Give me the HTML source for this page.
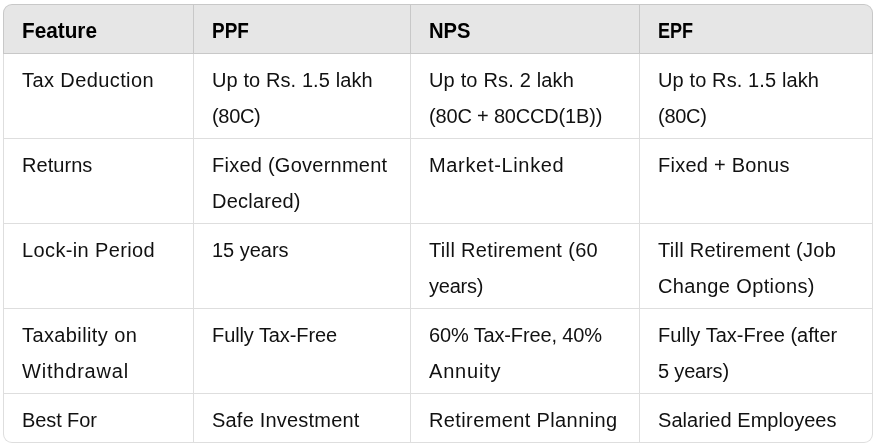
<!DOCTYPE html>
<html>
<head>
<meta charset="utf-8">
<title>PPF vs NPS vs EPF</title>
<style>
html,body{margin:0;padding:0;background:#fff;}
body{width:877px;height:445px;overflow:hidden;position:relative;font-family:"Liberation Sans",sans-serif;}
table{position:absolute;left:3px;top:4px;width:870px;border-collapse:separate;border-spacing:0;table-layout:fixed;
  border:1px solid rgba(0,0,0,.13);border-radius:9px;overflow:hidden;font-size:20px;line-height:36px;color:#111;
  background:linear-gradient(to bottom,#e6e6e6 0,#e6e6e6 50px,#fff 50px,#fff 100%) no-repeat;background-origin:border-box;background-clip:border-box;}
th,td{padding:8px 0 4px 18px;text-align:left;vertical-align:top;border-left:1px solid rgba(0,0,0,.13);border-top:1px solid rgba(0,0,0,.13);white-space:nowrap;overflow:hidden;}
th:first-child,td:first-child{border-left:none;}
thead th{border-top:none;font-weight:bold;color:#000;}
thead .l{transform-origin:0 25px;width:100px;}
tbody tr:first-child td{background:linear-gradient(to bottom,#e6e6e6 0,#e6e6e6 1px,transparent 1px) no-repeat;background-origin:border-box;background-clip:border-box;}
.l{display:block;height:36px;}

</style>
</head>
<body>
<table>
<colgroup><col style="width:189px"><col style="width:217px"><col style="width:229px"><col style="width:233px"></colgroup>
<thead><tr><th><span class="l" style="transform:scale(1.0376,1.075)">Feature</span></th><th><span class="l" style="transform:scale(0.9476,1.075)">PPF</span></th><th><span class="l" style="transform:scale(1.0102,1.075)">NPS</span></th><th><span class="l" style="transform:scale(0.9035,1.075)">EPF</span></th></tr></thead>
<tbody>
<tr><td><span class="l" style="letter-spacing:0.404px">Tax Deduction</span></td><td><span class="l" style="letter-spacing:0.097px">Up to Rs. 1.5 lakh</span><span class="l" style="letter-spacing:-0.308px">(80C)</span></td><td><span class="l" style="letter-spacing:0.172px">Up to Rs. 2 lakh</span><span class="l" style="letter-spacing:-0.177px">(80C + 80CCD(1B))</span></td><td><span class="l" style="letter-spacing:0.118px">Up to Rs. 1.5 lakh</span><span class="l" style="letter-spacing:-0.270px">(80C)</span></td></tr>
<tr><td><span class="l" style="letter-spacing:0.052px">Returns</span></td><td><span class="l" style="letter-spacing:0.250px">Fixed (Government</span><span class="l" style="letter-spacing:0.227px">Declared)</span></td><td><span class="l" style="letter-spacing:0.669px">Market-Linked</span></td><td><span class="l" style="letter-spacing:0.249px">Fixed + Bonus</span></td></tr>
<tr><td><span class="l" style="letter-spacing:0.377px">Lock-in Period</span></td><td><span class="l" style="letter-spacing:-0.022px">15 years</span></td><td><span class="l" style="letter-spacing:0.339px">Till Retirement (60</span><span class="l" style="letter-spacing:-0.220px">years)</span></td><td><span class="l" style="letter-spacing:0.273px">Till Retirement (Job</span><span class="l" style="letter-spacing:0.373px">Change Options)</span></td></tr>
<tr><td><span class="l" style="letter-spacing:0.395px">Taxability on</span><span class="l" style="letter-spacing:0.802px">Withdrawal</span></td><td><span class="l" style="letter-spacing:-0.090px">Fully Tax-Free</span></td><td><span class="l" style="letter-spacing:-0.144px">60% Tax-Free, 40%</span><span class="l" style="letter-spacing:0.793px">Annuity</span></td><td><span class="l" style="letter-spacing:0.036px">Fully Tax-Free (after</span><span class="l" style="letter-spacing:-0.173px">5 years)</span></td></tr>
<tr><td><span class="l" style="letter-spacing:-0.095px">Best For</span></td><td><span class="l" style="letter-spacing:0.206px">Safe Investment</span></td><td><span class="l" style="letter-spacing:0.382px">Retirement Planning</span></td><td><span class="l" style="letter-spacing:0.037px">Salaried Employees</span></td></tr>
</tbody>
</table>
</body>
</html>
